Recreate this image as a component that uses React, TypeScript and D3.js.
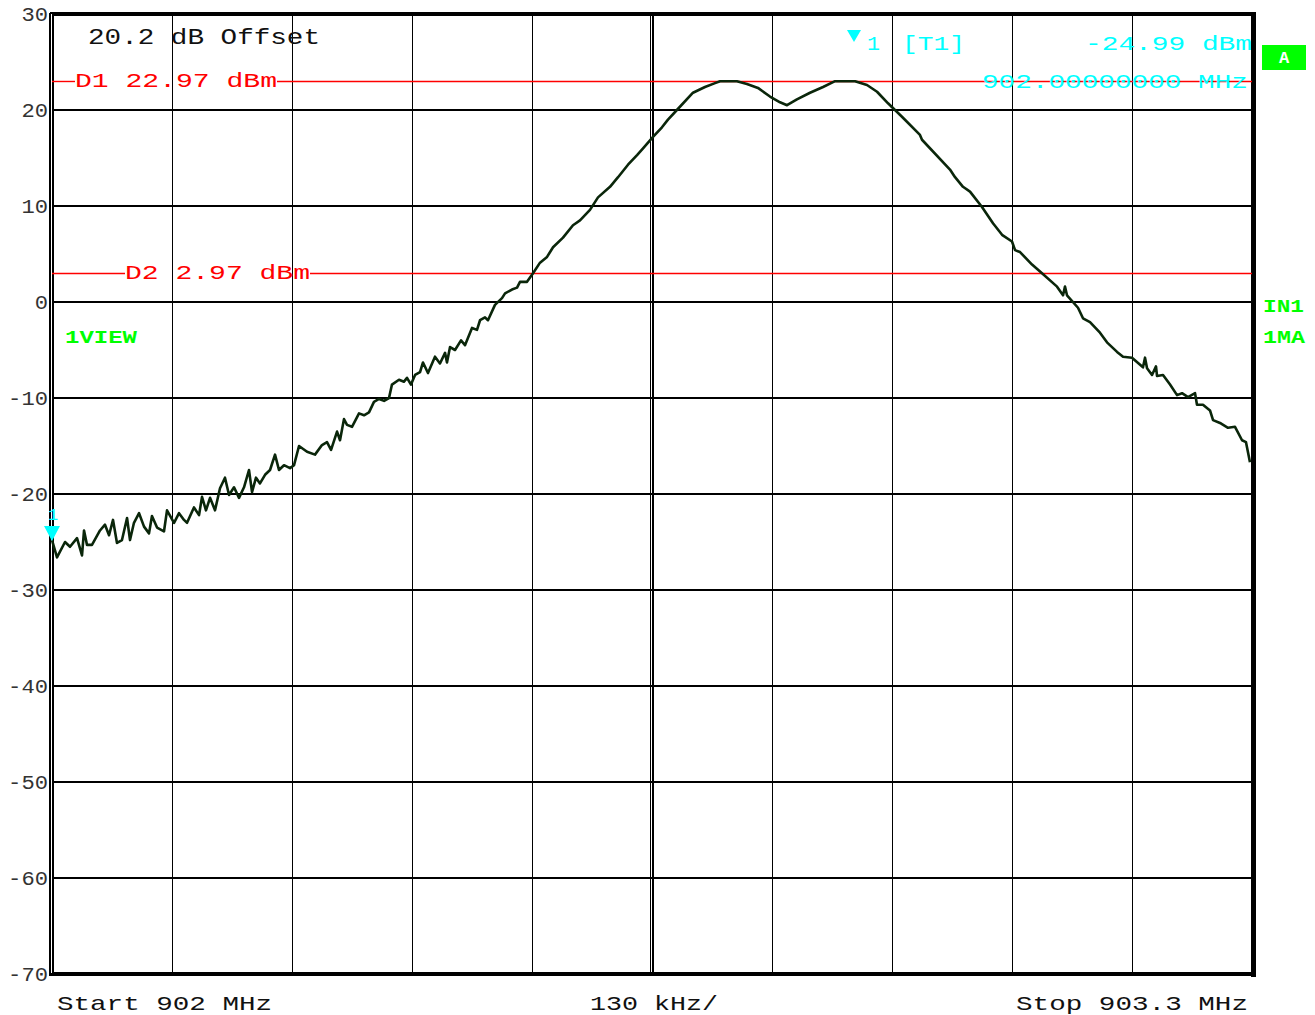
import React from "react";
import * as d3 from "d3";

// ---- Data ----
const startMHz = 902;
const spanKHz = 1300;
const divKHz = 130;
const refLevels = [30, 20, 10, 0, -10, -20, -30, -40, -50, -60, -70];
const yTickLabels = ["30", "20", "10", "0", "-10", "-20", "-30", "-40", "-50", "-60", "-70"];

// frequency offset from start (kHz) and trace level (dBm)
const freqKHz = [
  0, 5.4, 14.1, 19.5, 27.1, 32.5, 34.7, 37.9, 43.3, 52, 57.4, 61.8, 66.1, 70.4, 75.8, 81.3, 84.5, 88.8, 94.3, 99.7,
  105.1, 108.3, 113.8, 121.3, 124.6, 132.2, 137.6, 143, 146.3, 153.8, 159.3, 162.5, 166.8, 171.2, 176.6, 182, 187.4,
  191.8, 197.2, 202.6, 208, 213.4, 216.7, 221, 225.3, 230.8, 236.2, 241.6, 245.9, 251.3, 257.8, 262.2, 267.6, 276.3,
  284.9, 292.5, 297.9, 302.3, 308.8, 312, 316.3, 319.6, 325, 332.6, 338, 343.4, 348.8, 354.3, 359.7, 365.1, 368.3,
  375.9, 381.3, 384.6, 388.9, 393.3, 398.7, 401.9, 407.3, 414.9, 420.3, 425.8, 427.9, 431.2, 436.6, 443.1, 447.4,
  455, 460.4, 463.7, 469.1, 472.3, 479.9, 487.5, 490.8, 498.3, 503.8, 507, 514.6, 521.1, 528.7, 536.3, 542.8, 553.6,
  564.4, 572, 582.8, 591.5, 604.5, 613.2, 624, 633.8, 640.3, 651.1, 660.8, 667.3, 677, 694.4, 707.4, 718.3, 723.7,
  742, 752.9, 764.8, 777.8, 788.7, 796.3, 807, 821.2, 835.3, 848.3, 870, 882.9, 893.8, 905.7, 920.8, 940.3, 942.5,
  972.8, 978.3, 986.9, 994.5, 1007.5, 1019.4, 1029.2, 1040, 1043.3, 1048.7, 1061.7, 1072.5, 1088.8, 1095.3, 1097.4,
  1099.6, 1111.5, 1116.9, 1124.5, 1135.3, 1142.9, 1153.8, 1160.3, 1170, 1181.9, 1184.1, 1186.3, 1191.7, 1196, 1197.1,
  1203.6, 1211.2, 1218.8, 1224.2, 1230.7, 1238.3, 1240.4, 1246.9, 1254.5, 1257.8, 1265.3, 1274, 1281.6, 1289.2,
  1293.5, 1297.8,
];
const levelDbm = [
  -24.8, -26.6, -25.0, -25.5, -24.6, -26.4, -23.8, -25.3, -25.3, -23.8, -23.2, -24.3, -22.7, -25.1, -24.8, -22.5, -24.8,
  -23.0, -22.0, -23.4, -24.1, -22.3, -23.5, -23.9, -21.7, -23.0, -22.0, -22.7, -23.0, -21.4, -22.2, -20.3, -21.7, -20.4,
  -21.7, -19.4, -18.3, -20.1, -19.3, -20.4, -19.3, -17.5, -19.8, -18.3, -18.9, -18.0, -17.5, -15.9, -17.5, -17.0,
  -17.3, -17.0, -15.0, -15.6, -15.9, -14.9, -14.6, -15.4, -13.5, -14.4, -12.2, -12.8, -13.0, -11.6, -11.8, -11.5,
  -10.4, -10.1, -10.3, -10.0, -8.6, -8.1, -8.3, -7.9, -8.6, -7.6, -7.3, -6.3, -7.4, -5.7, -6.4, -5.3, -6.3, -4.7, -5.0,
  -4.0, -4.5, -2.7, -2.9, -1.9, -1.6, -1.9, -0.3, 0.4, 0.9, 1.3, 1.5, 2.1, 2.1, 3.0, 4.1, 4.7, 5.7, 6.7, 8.0, 8.5, 9.6,
  10.9, 12.0, 13.0, 14.3, 15.3, 16.0, 17.2, 18.2, 19.0, 20.0, 21.8, 22.4, 22.8, 23.0, 23.0, 22.7, 22.3, 21.4, 20.8,
  20.5, 21.1, 21.8, 22.4, 23.0, 23.0, 22.6, 21.9, 20.7, 19.3, 17.4, 16.9, 13.8, 13.0, 12.0, 11.5, 9.9, 8.2, 7.0, 6.3,
  5.4, 5.2, 3.9, 3.0, 1.6, 0.7, 1.6, 0.7, -0.6, -1.7, -2.1, -3.2, -4.2, -5.2, -5.7, -5.8, -6.8, -5.8, -6.9, -7.6, -6.7,
  -7.7, -7.6, -8.6, -9.7, -9.5, -9.9, -9.5, -10.7, -10.7, -11.3, -12.3, -12.6, -13.1, -13.0, -14.4, -14.6, -16.7,
];

const displayLines = [
  { name: "D1", level: 22.97, label: "D1 22.97 dBm" },
  { name: "D2", level: 2.97, label: "D2 2.97 dBm" },
];
const markerFreqKHz = 0;
const markerLevel = -24.99;

const FONT = "'Liberation Mono', 'Courier New', monospace";

export default function App() {
  const L = 52, R = 1252, T = 14, B = 974;
  const x = d3.scaleLinear().domain([0, spanKHz]).range([L, R]);
  const y = d3.scaleLinear().domain([-70, 30]).range([B, T]);
  const xTicks = d3.range(0, spanKHz + 1, divKHz);
  const pts: [number, number][] = freqKHz.map((f, i) => [f, levelDbm[i]]);
  const line = d3.line<[number, number]>().x((d) => x(d[0])).y((d) => y(d[1]));

  const d1 = displayLines[0], d2 = displayLines[1];
  const y1 = y(d1.level);
  const y2 = y(d2.level);
  const mx = x(markerFreqKHz), my = y(markerLevel);

  return (
    <svg width={1315} height={1015} style={{ position: "absolute", left: 0, top: 0, background: "#fff" }}>
      <rect x={0} y={0} width={1315} height={1015} fill="#fff" />
      {/* grid */}
      <g shapeRendering="crispEdges">
        {refLevels.map((v) => (
          <line key={"h" + v} x1={L} x2={R} y1={y(v)} y2={y(v)} stroke="#000" strokeWidth={2} />
        ))}
        {xTicks.map((t) => (
          <line key={"v" + t} x1={Math.round(x(t)) + 0.5} x2={Math.round(x(t)) + 0.5} y1={T} y2={B} stroke="#000" strokeWidth={1.2} />
        ))}
        {/* center double line */}
        <line x1={x(spanKHz / 2) - 1.5} x2={x(spanKHz / 2) - 1.5} y1={T} y2={B} stroke="#000" strokeWidth={1.2} />
        <line x1={x(spanKHz / 2) + 1.5} x2={x(spanKHz / 2) + 1.5} y1={T} y2={B} stroke="#000" strokeWidth={1.2} />
        {/* frame */}
        <line x1={L - 2} x2={L - 2} y1={T - 1} y2={B + 2} stroke="#000" strokeWidth={1.5} />
        <line x1={L + 1} x2={L + 1} y1={T} y2={B} stroke="#000" strokeWidth={1.5} />
        <line x1={L - 2} x2={R + 3} y1={T - 1} y2={T - 1} stroke="#000" strokeWidth={2} />
        <line x1={L} x2={R} y1={T + 1.5} y2={T + 1.5} stroke="#000" strokeWidth={1} />
        <line x1={L - 2} x2={R + 3} y1={B + 0.5} y2={B + 0.5} stroke="#000" strokeWidth={3} />
        <line x1={L} x2={R} y1={B - 1.5} y2={B - 1.5} stroke="#000" strokeWidth={1} />
        <rect x={R - 1} y={T - 2} width={5} height={B - T + 5} fill="#000" />
      </g>

      {/* display lines */}
      <g stroke="#ff0000" strokeWidth={1.4}>
        <line x1={L} x2={75} y1={y1} y2={y1} />
        <line x1={277} x2={R} y1={y1} y2={y1} />
        <line x1={L} x2={125} y1={y2} y2={y2} />
        <line x1={310} x2={R} y1={y2} y2={y2} />
      </g>

      {/* trace */}
      <path d={line(pts) || ""} fill="none" stroke="#0a260a" strokeWidth={2.6} strokeLinejoin="round" />

      {/* texts */}
      <g fontFamily={FONT}>
        {refLevels.map((v, i) => (
          <text key={"yl" + v} x={48} y={y(v) + 7} textAnchor="end" fontSize={20} fill="#333"
            textLength={yTickLabels[i].length * 13.3} lengthAdjust="spacingAndGlyphs">
            {yTickLabels[i]}
          </text>
        ))}
        <text x={88} y={44} fontSize={22} fill="#111" textLength={232} lengthAdjust="spacingAndGlyphs">20.2 dB Offset</text>
        <text x={75} y={87} fontSize={21} fill="#f00" textLength={202} lengthAdjust="spacingAndGlyphs">{d1.label}</text>
        <text x={125} y={279} fontSize={21} fill="#f00" textLength={185} lengthAdjust="spacingAndGlyphs">{d2.label}</text>
        <text x={65} y={343} fontSize={18} fontWeight="bold" fill="#0f0" textLength={72} lengthAdjust="spacingAndGlyphs">1VIEW</text>
        <text x={1263} y={312} fontSize={18} fontWeight="bold" fill="#0f0" textLength={41} lengthAdjust="spacingAndGlyphs">IN1</text>
        <text x={1263} y={343} fontSize={18} fontWeight="bold" fill="#0f0" textLength={42} lengthAdjust="spacingAndGlyphs">1MA</text>
        <rect x={1262} y={45} width={44} height={25} fill="#0f0" />
        <text x={1284} y={63} fontSize={17} fontWeight="bold" fill="#fff" textAnchor="middle">A</text>

        {/* marker info */}
        <path d="M847,30 L861,30 L854,42 Z" fill="#0ff" />
        <text x={867} y={50} fontSize={21} fill="#0ff" textLength={13} lengthAdjust="spacingAndGlyphs">1</text>
        <text x={902} y={50} fontSize={21} fill="#0ff" textLength={63} lengthAdjust="spacingAndGlyphs">[T1]</text>
        <text x={1085} y={50} fontSize={21} fill="#0ff" textLength={167} lengthAdjust="spacingAndGlyphs">-24.99 dBm</text>
        <text x={982} y={88} fontSize={21} fill="#0ff" textLength={266} lengthAdjust="spacingAndGlyphs">902.00000000 MHz</text>

        {/* marker on trace */}
        <path d={`M${mx - 8},${my - 16} L${mx + 8},${my - 16} L${mx},${my - 1} Z`} fill="#0ff" />
        <text x={mx + 1} y={my - 22} fontSize={17} fill="#0ff" textAnchor="middle" fontWeight="normal">1</text>

        {/* bottom */}
        <text x={57} y={1010} fontSize={21} fill="#111" textLength={215} lengthAdjust="spacingAndGlyphs">{`Start ${startMHz} MHz`}</text>
        <text x={590} y={1010} fontSize={21} fill="#111" textLength={128} lengthAdjust="spacingAndGlyphs">{`${divKHz} kHz/`}</text>
        <text x={1016} y={1010} fontSize={21} fill="#111" textLength={232} lengthAdjust="spacingAndGlyphs">{`Stop ${(startMHz + spanKHz / 1000).toFixed(1)} MHz`}</text>
      </g>
    </svg>
  );
}
